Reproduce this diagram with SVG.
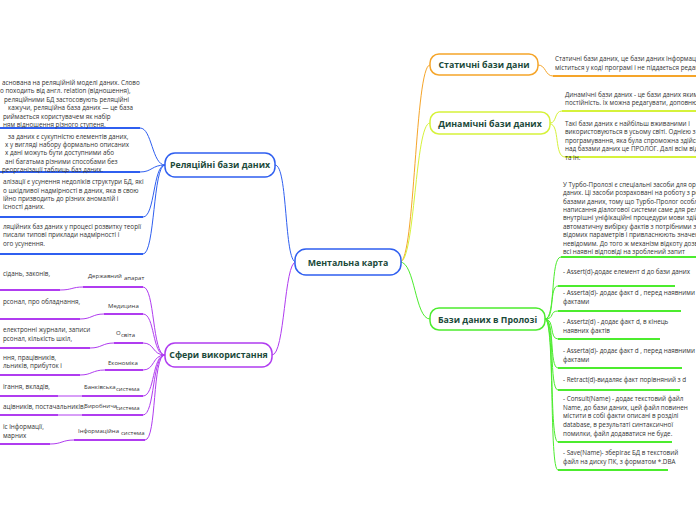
<svg xmlns="http://www.w3.org/2000/svg" width="696" height="520" viewBox="0 0 696 520">
<style>
.t{font-family:"Open Sans","Noto Sans",sans-serif;font-size:6.3px;fill:#333}
.l{font-family:"Open Sans","Noto Sans",sans-serif;font-size:6px;fill:#333}
.nt{font-family:"Open Sans","Noto Sans",sans-serif;font-weight:700;font-size:8.8px;fill:#1b4a3a;text-anchor:middle}
.box{fill:#fff;stroke-width:1.5}
.c{fill:none;stroke-width:1}
.u{fill:none;stroke-width:2}
.b{stroke:#2f5ff0}.p{stroke:#b03cf0}.o{stroke:#f5a52a}.y{stroke:#d6f23b}.g{stroke:#4cec2e}
</style>
<rect width="696" height="520" fill="#fff"/>
<g id="connectors">
<!-- center -->
<path class="c b" d="M296,262 C284,262 288,165 275,165"/>
<path class="c p" d="M296,262 C284,262 285,355 272,355"/>
<path class="c o" d="M400,262 C415,262 415,65 430,65"/>
<path class="c y" d="M400,262 C415,262 415,123 430,123"/>
<path class="c g" d="M400,262 C415,262 415,319 430,319"/>
<!-- relational -->
<path class="c b" d="M165,165 C152,165 152,128 140,128"/>
<path class="c b" d="M165,165 C152,165 152,172 140,172"/>
<path class="c b" d="M165,165 C153,165 155,217 143,217"/>
<path class="c b" d="M165,165 C153,165 155,254 143,254"/>
<path class="u b" d="M0,128 H140 M0,172 H140 M0,217 H143 M0,254 H143"/>
<!-- spheres -->
<path class="c p" d="M165,355 C152,355 155,287 143,287"/>
<path class="c p" d="M165,355 C152,355 155,314 143,314"/>
<path class="c p" d="M165,355 C152,355 155,343 143,343"/>
<path class="c p" d="M165,355 C152,355 155,370 143,370"/>
<path class="c p" d="M165,355 C152,355 155,396 143,396"/>
<path class="c p" d="M165,355 C152,355 155,415 143,415"/>
<path class="c p" d="M165,355 C152,355 157,440 145,440"/>
<path class="u p" d="M83,287 H143 M104,314 H143 M114,343 H143 M105,370 H143 M82,396 H143 M82,415 H143 M74,440 H145"/>
<path class="c p" d="M60,290 C72,290 72,287 83,287"/>
<path class="c p" d="M80,319 C92,319 92,314 104,314"/>
<path class="c p" d="M90,348 C102,348 102,343 114,343"/>
<path class="c p" d="M80,375 C92,375 92,370 105,370"/>
<path class="c p" d="M58,396 H82"/>
<path class="c p" d="M58,415 H82"/>
<path class="c p" d="M50,444 C62,444 62,440 74,440"/>
<path class="u p" d="M0,290 H60 M0,319 H80 M0,348 H90 M0,375 H80 M0,396 H58 M0,415 H58 M0,444 H50"/>
<!-- static -->
<path class="c o" d="M538,65 C546,65 545,76 553,76"/>
<path class="u o" d="M553,76 H696"/>
<!-- dynamic -->
<path class="c y" d="M550,123 C557,123 554,111 562,111"/>
<path class="c y" d="M550,124 C560,124 554,157 565,157"/>
<path class="u y" d="M562,111 H696 M565,157 H696"/>
<!-- prolog -->
<path class="c g" d="M545,319 C556,319 550,257 561,257"/>
<path class="c g" d="M545,319 C555,319 549,286 558,286"/>
<path class="c g" d="M545,319 C555,319 549,311 558,311"/>
<path class="c g" d="M545,319 C555,319 549,339 558,339"/>
<path class="c g" d="M545,319 C555,319 549,368 558,368"/>
<path class="c g" d="M545,319 C555,319 549,390 558,390"/>
<path class="c g" d="M545,319 C555,319 549,442 558,442"/>
<path class="c g" d="M545,319 C555,319 549,470 558,470"/>
<path class="u g" d="M561,257 H696 M558,286 H675 M558,311 H681 M558,339 H660 M558,368 H682 M558,390 H680 M558,442 H672 M558,470 H668"/>
</g>
<g id="n-center"><rect class="box b" x="295" y="249" width="106" height="26" rx="11"/><text class="nt" x="348" y="265.5" font-size="9.5">Ментальна карта</text></g>
<g id="n-static"><rect class="box o" x="430" y="54" width="108" height="21" rx="9"/><text class="nt" x="484" y="68">Статичні бази дани</text></g>
<g id="n-dynamic"><rect class="box y" x="430" y="112" width="120" height="22" rx="9"/><text class="nt" x="490" y="126.5">Динамічні бази даних</text></g>
<g id="n-prolog"><rect class="box g" x="430" y="308" width="115" height="22" rx="9"/><text class="nt" x="487.5" y="322.5">Бази даних в Пролозі</text></g>
<g id="n-relational"><rect class="box b" x="165" y="153" width="110" height="24" rx="10"/><text class="nt" x="220" y="168">Реляційні бази даних</text></g>
<g id="n-spheres"><rect class="box p" x="165" y="343" width="107" height="24" rx="10"/><text class="nt" x="218.5" y="358">Сфери використання</text></g>
<g id="t-relational">
<text class="t" x="2" y="85">аснована на реляційній моделі даних. Слово</text>
<text class="t" x="0" y="93">о походить від англ. relation (відношення),</text>
<text class="t" x="4" y="102">реляційними БД застосовують реляційні</text>
<text class="t" x="8" y="110">кажучи, реляційна база даних — це база</text>
<text class="t" x="3" y="119">риймається користувачем як набір</text>
<text class="t" x="3" y="127">ням відношення різного ступеня.</text>
<text class="t" x="8" y="139">за даних є сукупністю елементів даних,</text>
<text class="t" x="5" y="147">х у вигляді набору формально описаних</text>
<text class="t" x="5" y="155">х дані можуть бути доступними або</text>
<text class="t" x="5" y="164">ані багатьма різними способами без</text>
<text class="t" x="2" y="172">реорганізації таблиць баз даних.</text>
<text class="t" x="3" y="184">алізації є усунення недоліків структури БД, які</text>
<text class="t" x="3" y="193">о шкідливої надмірності в даних, яка в свою</text>
<text class="t" x="3" y="201">ійно призводить до різних аномалій і</text>
<text class="t" x="3" y="209">існості даних.</text>
<text class="t" x="3" y="229">ляційних баз даних у процесі розвитку теорії</text>
<text class="t" x="3" y="237">писали типові приклади надмірності і</text>
<text class="t" x="3" y="246">ого усунення.</text>
</g>
<g id="t-spheres">
<text class="l" x="88" y="278">Державний</text><text class="l" x="124" y="280">апарат</text>
<text class="t" x="3" y="276">сідань, законів,</text>
<text class="l" x="108" y="308">Медицина</text>
<text class="t" x="3" y="304">рсонал, про обладнання,</text>
<text class="l" x="116" y="335">О</text><text class="l" x="121" y="337">світа</text>
<text class="t" x="3" y="332">електронні журнали, записи</text>
<text class="t" x="3" y="341">рсонал, кількість шкіл,</text>
<text class="l" x="108" y="365">Економіка</text>
<text class="t" x="3" y="360">ння, працівників,</text>
<text class="t" x="3" y="368">льників, прибуток і</text>
<text class="l" x="84" y="389">Банківська</text><text class="l" x="116" y="391">система</text>
<text class="t" x="3" y="389">ігання, вкладів,</text>
<text class="l" x="84" y="408">Виробнича</text><text class="l" x="116" y="410">система</text>
<text class="t" x="3" y="409">ацівників, постачальників.</text>
<text class="l" x="78" y="433">Інформаційна</text><text class="l" x="121" y="435">система</text>
<text class="t" x="3" y="429">іс інформації,</text>
<text class="t" x="3" y="438">марних</text>
</g>
<g id="t-right">
<text class="t" x="555" y="61">Статичні бази даних, це бази даних інформація в яких</text>
<text class="t" x="555" y="70">міститься у коді програмі і не піддається редагуванню</text>
<text class="t" x="565" y="97">Динамічні бази даних - це бази даних якими можна</text>
<text class="t" x="565" y="105">постійність. Їх можна редагувати, доповнювати</text>
<text class="t" x="565" y="126">Такі бази даних є найбільш вживаними і</text>
<text class="t" x="565" y="134">використовуються в усьому світі. Однією з перших</text>
<text class="t" x="565" y="143">програмування, яка була спроможна здійснювати</text>
<text class="t" x="565" y="151">над базами даних це ПРОЛОГ. Далі всім відомі</text>
<text class="t" x="565" y="160">та ін.</text>
<text class="t" x="563" y="187">У Турбо-Пролозі є спеціальні засоби для організації</text>
<text class="t" x="563" y="195">даних. Ці засоби розраховані на роботу з реляційними</text>
<text class="t" x="563" y="204">базами даних, тому що Турбо-Пролог особливо</text>
<text class="t" x="563" y="212">написання діалогової системи саме для реляційних</text>
<text class="t" x="563" y="220">внутрішні уніфікаційні процедури мови здійснюють</text>
<text class="t" x="563" y="229">автоматичну вибірку фактів з потрібними значеннями</text>
<text class="t" x="563" y="237">відомих параметрів і привласнюють значення</text>
<text class="t" x="563" y="246">невідомим. До того ж механізм відкоту дозволяє</text>
<text class="t" x="563" y="254">всі наявні відповіді на зроблений запит</text>
<text class="t" x="563" y="274">- Assert(d)-додає елемент d до бази даних</text>
<text class="t" x="563" y="295">- Asserta(d)- додає факт d , перед наявними</text>
<text class="t" x="563" y="304">фактами</text>
<text class="t" x="563" y="324">- Assertz(d) - додає факт d, в кінець</text>
<text class="t" x="563" y="333">наявних фактів</text>
<text class="t" x="563" y="353">- Asserta(d)- додає факт d , перед наявними</text>
<text class="t" x="563" y="362">фактами</text>
<text class="t" x="563" y="382">- Retract(d)-видаляє факт порівняний з d</text>
<text class="t" x="563" y="401">- Consult(Name) - додає текстовий файл</text>
<text class="t" x="563" y="410">Name, до бази даних, цей файл повинен</text>
<text class="t" x="563" y="418">містити в собі факти описані в розділі</text>
<text class="t" x="563" y="427">database, в результаті синтаксичної</text>
<text class="t" x="563" y="436">помилки, файл додаватися не буде.</text>
<text class="t" x="563" y="455">- Save(Name)- зберігає БД в текстовий</text>
<text class="t" x="563" y="464">файл на диску ПК, з форматом *.DBA</text>
</g>
</svg>
